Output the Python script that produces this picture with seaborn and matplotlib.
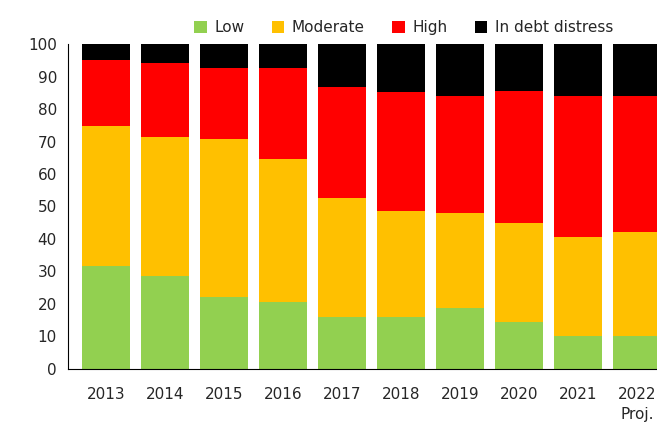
import pandas as pd
import matplotlib.pyplot as plt
import seaborn as sns

years = ["2013", "2014", "2015", "2016", "2017", "2018", "2019", "2020", "2021", "2022"]
low = [31.7, 28.6, 22.2, 20.6, 16.0, 16.0, 18.8, 14.5, 10.2, 10.2]
moderate = [43.1, 42.8, 48.6, 44.0, 36.6, 32.6, 29.2, 30.4, 30.4, 32.0]
high = [20.3, 22.8, 21.8, 28.0, 34.2, 36.6, 36.0, 40.6, 43.4, 41.8]
distress = [4.9, 5.8, 7.4, 7.4, 13.2, 14.8, 16.0, 14.5, 16.0, 16.0]

names = ["Low", "Moderate", "High", "In debt distress"]
colors = ["#92d050", "#ffc000", "#ff0000", "#000000"]
series = [low, moderate, high, distress]

sns.set_style("white")
plt.rcParams["font.family"] = ["DejaVu Sans"]
fig = plt.figure(figsize=(6.57, 4.32), dpi=100)
ax = fig.add_axes([0.1035, 0.146, 0.8965, 0.752])

# cumulative tops, draw tallest first
tops = []
run = [0.0] * len(years)
for s in series:
    run = [a + b for a, b in zip(run, s)]
    tops.append(run)

for name, col, top in reversed(list(zip(names, colors, tops))):
    df = pd.DataFrame({"year": years, "v": top})
    sns.barplot(data=df, x="year", y="v", color=col, width=0.81,
                saturation=1, ax=ax, label=name, linewidth=0, edgecolor="none")

ax.set_xlim(-0.64, 9.34)
ax.set_ylim(0, 100)
ax.set_yticks(range(0, 101, 10))
ax.set_xlabel("")
ax.set_ylabel("")
ax.tick_params(labelsize=11, length=0)
ax.tick_params(axis="x", pad=13)
ax.tick_params(axis="y", pad=8)
for sp in ["top", "right"]:
    ax.spines[sp].set_visible(False)
for sp in ["left", "bottom"]:
    ax.spines[sp].set_color("#000000")
ax.text(9, -11.8, "Proj.", ha="center", va="top", fontsize=11)

h, l = ax.get_legend_handles_labels()
ax.legend(h[::-1], l[::-1], ncol=4, loc="lower center", bbox_to_anchor=(0.57, 0.985),
          frameon=False, fontsize=11, handlelength=0.8, handleheight=0.8,
          columnspacing=1.8, handletextpad=0.5)
fig.savefig("out.png", dpi=100)
